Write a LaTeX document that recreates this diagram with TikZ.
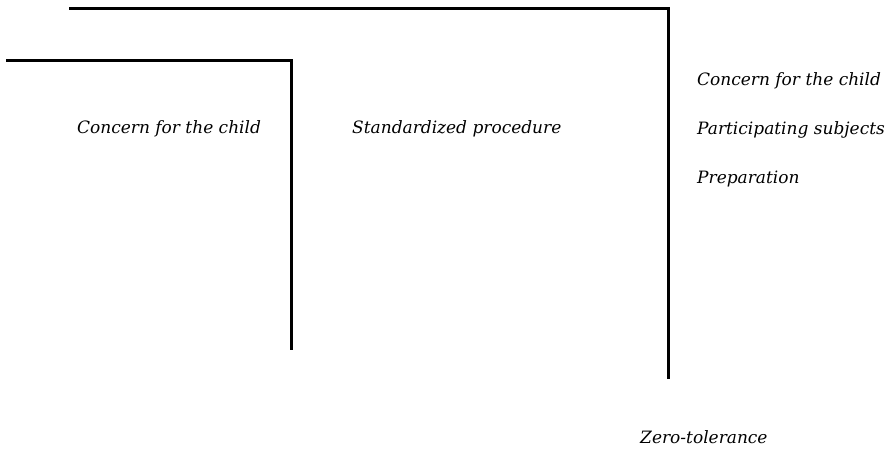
\documentclass[tikz,border=0pt]{standalone}
\usepackage{fontspec}
\setmainfont{DejaVu Serif}
\usetikzlibrary{positioning}
\tikzset{
  % Label text
  LT/.style={inner sep=0pt,anchor=base west,font=\fontsize{17}{20}\selectfont\itshape},
  % Bracket line
  br/.style={line width=3pt,line cap=rect}
}
\begin{document}
\begin{tikzpicture}[x=1pt,y=-1pt]
  \useasboundingbox (0,0) rectangle (890,450);
  % outer bracket
  \coordinate (outA) at (70,8);
  \coordinate (outC) at (668,8);
  \coordinate (outB) at (668,377);
  \draw[br](outA)--(outC)--(outB);
  % inner bracket
  \coordinate (inA) at (7,60);
  \coordinate (inC) at (291,60);
  \coordinate (inB) at (291,348);
  \draw[br](inA)--(inC)--(inB);
  % labels
  \node[LT] (child) at (77,133) {Concern for the child};
  \node[LT] (std) at (352,133) {Standardized procedure};
  \node[LT] (child2) at (697,85) {Concern for the child};
  \node[LT,below=49pt of child2.base west,anchor=base west] (subj) {Participating subjects};
  \node[LT,below=49pt of subj.base west,anchor=base west] (prep) {Preparation};
  \node[LT] (zero) at (640,443) {Zero-tolerance};
\end{tikzpicture}
\end{document}
